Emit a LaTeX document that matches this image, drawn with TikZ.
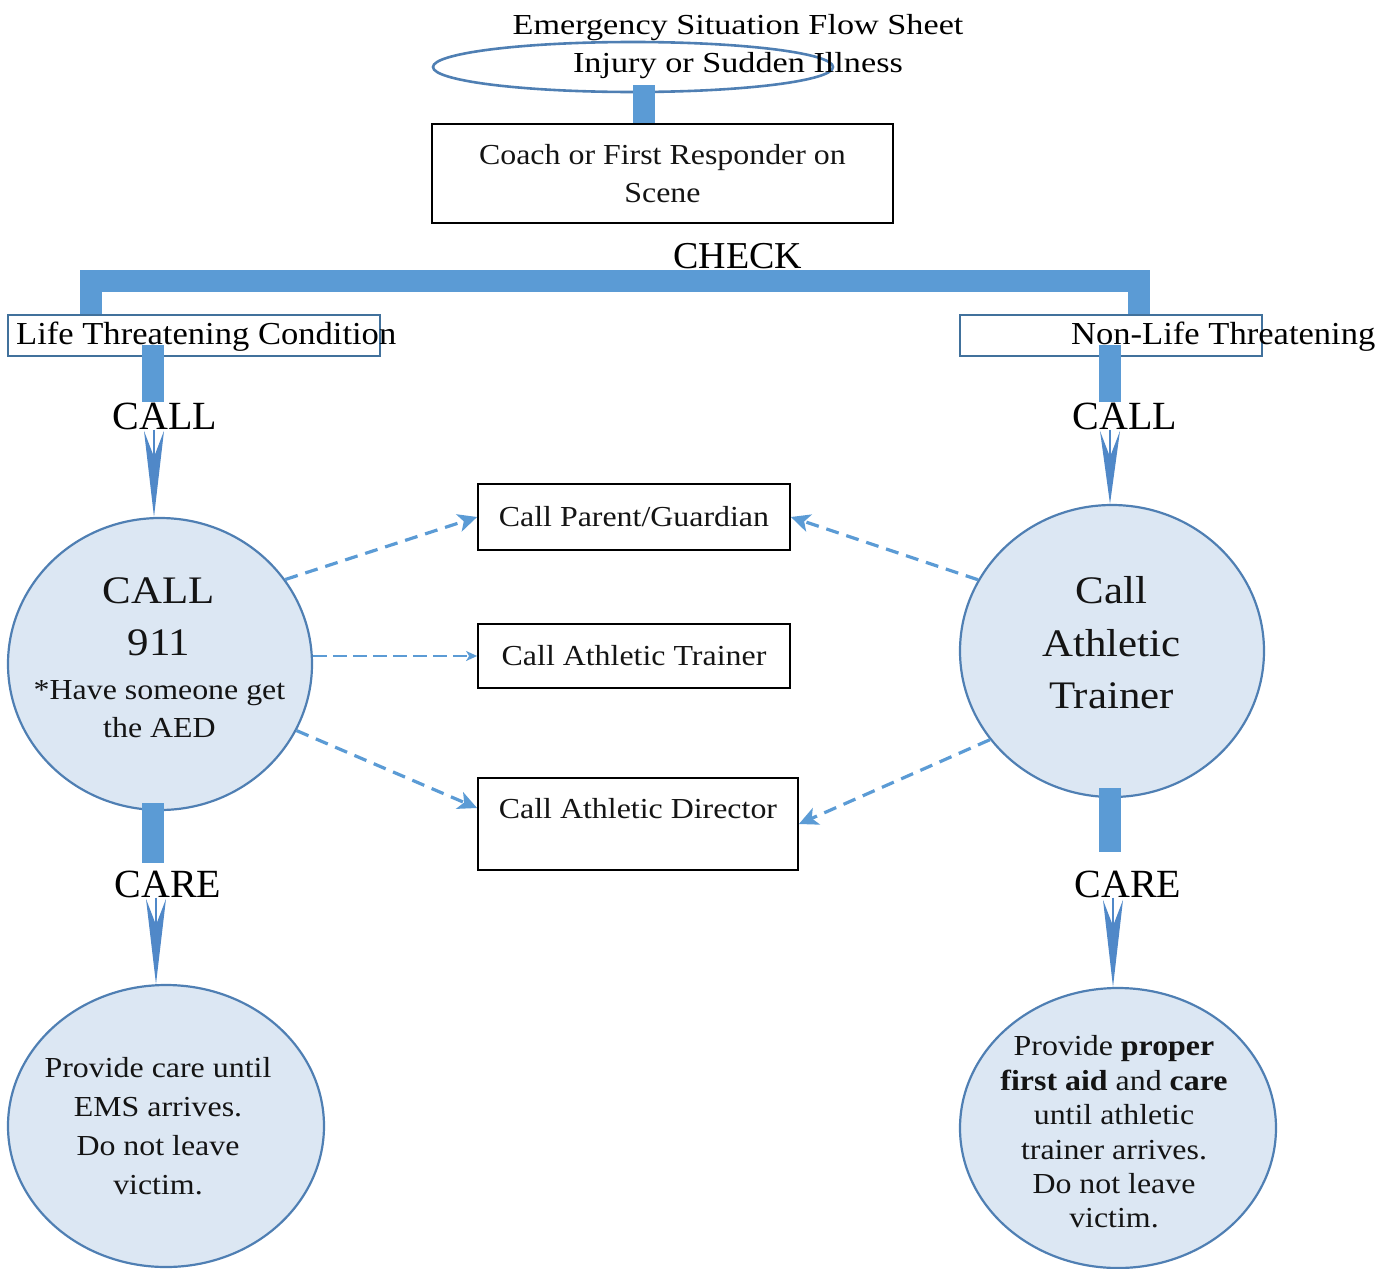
\documentclass[tikz,border=0pt]{standalone}
\usepackage{fontspec}
\setmainfont{Liberation Serif}
\newfontfamily\geo[FakeStretch=1.18]{Liberation Serif}
\newfontfamily\geob[FakeStretch=1.08]{Liberation Serif}
\newfontfamily\tnr[FakeStretch=1.1]{Liberation Serif}
\usetikzlibrary{arrows.meta,shapes.geometric}
\definecolor{barblue}{HTML}{5B9BD5}
\definecolor{edgeblue}{HTML}{4F7FB3}
\definecolor{boxblue}{HTML}{41719C}
\definecolor{circfill}{HTML}{DCE7F3}
\definecolor{spikeblue}{HTML}{5088C8}
\definecolor{txt}{HTML}{141414}
\begin{document}
\begin{tikzpicture}[x=1pt,y=-1pt,
  bar/.style={draw=barblue,line width=22pt},
  spike/.style={draw=spikeblue,line width=1.5pt,-{Stealth[length=#1,width=20pt,inset=26pt]}},
  bubble/.style={ellipse,draw=edgeblue,line width=2.2pt,fill=circfill,inner sep=0pt},
  plainbox/.style={rectangle,draw=black,line width=1.8pt,inner sep=0pt,text=txt},
  bluebox/.style={rectangle,draw=boxblue,line width=1.8pt,fill=white,inner sep=0pt},
  lbl/.style={inner sep=0pt,anchor=base,font=\fontsize{40}{48}\selectfont},
  ctext/.style={inner sep=0pt,align=center,text=txt},
  dasharrow/.style={draw=barblue,line width=3.2pt,dash pattern=on 13pt off 8pt,-{Stealth[length=19pt,width=18pt,inset=5pt]}},
  thindash/.style={draw=barblue,line width=1.5pt,dash pattern=on 14pt off 6pt,-{Stealth[length=11pt,width=10pt,inset=3pt]}},
  boxfont/.style={font=\tnr\fontsize{29}{34}\selectfont}
]
\useasboundingbox (0,0) rectangle (1393,1269);

% top
\node[ellipse,draw=edgeblue,line width=2.6pt,minimum width=400pt,minimum height=50pt,inner sep=0pt] (ell) at (633,67) {};
\node[inner sep=0pt,anchor=base,font=\geo\fontsize{29}{34}\selectfont] (title1) at (738,34) {Emergency Situation Flow Sheet};
\node[inner sep=0pt,anchor=base,font=\geo\fontsize{29}{34}\selectfont] (title2) at (738,72) {Injury or Sudden Illness};

\node[plainbox,minimum width=461pt,minimum height=99pt,align=center,font=\tnr\fontsize{29}{38}\selectfont] (coach) at (662.5,173.5) {Coach or First Responder on\\Scene};
\coordinate (e1) at (644,85);
\draw[bar] (e1) -- (e1 |- coach.north);

\node[lbl,font=\fontsize{38}{44}\selectfont] (check) at (738,268) {CHECK};

\coordinate (hl) at (91,281);
\coordinate (hr) at (1139,281);
\node[bluebox,minimum width=372pt,minimum height=41pt] (lt) at (194,335.5) {};
\node[bluebox,minimum width=302pt,minimum height=41pt] (nl) at (1111,335.5) {};
\draw[bar] (hl |- lt.north) -- (hl) -- (hr) -- (hr |- nl.north);
\node[inner sep=0pt,anchor=base west,font=\geob\fontsize{32}{38}\selectfont] (ltt) at (16,344) {Life Threatening Condition};
\node[inner sep=0pt,anchor=base west,font=\geob\fontsize{32}{38}\selectfont] (nlt) at (1071,344) {Non-Life Threatening};

% CALL level
\node[lbl] (call1) at (165,429) {CALL};
\node[lbl] (call2) at (1125,429) {CALL};
\coordinate (b1) at (152.5,345);
\coordinate (b2) at (1109.5,345);
\draw[bar] (b1) -- (b1 |- call1.north);
\draw[bar] (b2) -- (b2 |- call2.north);

% circles
\node[bubble,minimum width=304pt,minimum height=292pt] (c911) at (160,664) {};
\node[bubble,minimum width=304pt,minimum height=292pt] (ctr) at (1112,651) {};
\node[ctext,font=\tnr\fontsize{39}{52}\selectfont] (c911a) at (159,616.5) {CALL\\911};
\node[ctext,font=\tnr\fontsize{29}{38}\selectfont] (c911b) at (159.5,709) {*Have someone get\\the AED};
\node[ctext,font=\tnr\fontsize{39}{52.5}\selectfont] (ctrt) at (1111.5,643) {Call\\Athletic\\Trainer};

\coordinate (s1) at ([xshift=-6pt]c911.north);
\coordinate (s2) at ([xshift=-2pt]ctr.north);
\draw[spike=86pt] (s1 |- call1.south) -- (s1);
\draw[spike=73pt] (s2 |- call2.south) -- (s2);

% middle boxes
\node[plainbox,boxfont,minimum width=312pt,minimum height=66pt] (bp) at (634,517) {Call Parent/Guardian};
\node[plainbox,boxfont,minimum width=312pt,minimum height=64pt] (bt) at (634,656) {Call Athletic Trainer};
\node[plainbox,minimum width=320pt,minimum height=92pt] (bd) at (638,824) {};
\node[ctext,boxfont,anchor=base] (bdt) at (638,818) {Call Athletic Director};

\draw[dasharrow] (c911.34) -- (bp.west);
\draw[thindash] (c911.3) -- (c911.3 -| bt.west);
\draw[dasharrow] (c911.-26) -- ([yshift=16pt]bd.west);
\draw[dasharrow] (ctr.152) -- (bp.east);
\draw[dasharrow] (ctr.-144) -- (bd.east);

% CARE level
\node[lbl] (care1) at (168,897) {CARE};
\node[lbl] (care2) at (1128,897) {CARE};
\coordinate (b3) at (152.5,803);
\coordinate (b4) at (1109.5,788);
\draw[bar,shorten >=7pt] (b3) -- (b3 |- care1.north);
\draw[bar,shorten >=18pt] (b4) -- (b4 |- care2.north);

\node[bubble,minimum width=316pt,minimum height=282pt] (cbl) at (166,1126) {};
\node[bubble,minimum width=316pt,minimum height=280pt] (cbr) at (1118,1128) {};
\node[ctext,font=\tnr\fontsize{29}{39}\selectfont] (cblt) at (158,1126.5) {Provide care until\\EMS arrives.\\Do not leave\\victim.};
\node[ctext,font=\tnr\fontsize{29}{34.4}\selectfont] (cbrt) at (1114,1132) {Provide \textbf{proper}\\\textbf{first aid} and \textbf{care}\\until athletic\\trainer arrives.\\Do not leave\\victim.};

\coordinate (s3) at ([xshift=-10pt]cbl.north);
\coordinate (s4) at ([xshift=-5pt]cbr.north);
\draw[spike=85pt] (s3 |- care1.south) -- (s3);
\draw[spike=87pt] (s4 |- care2.south) -- (s4);
\end{tikzpicture}
\end{document}
